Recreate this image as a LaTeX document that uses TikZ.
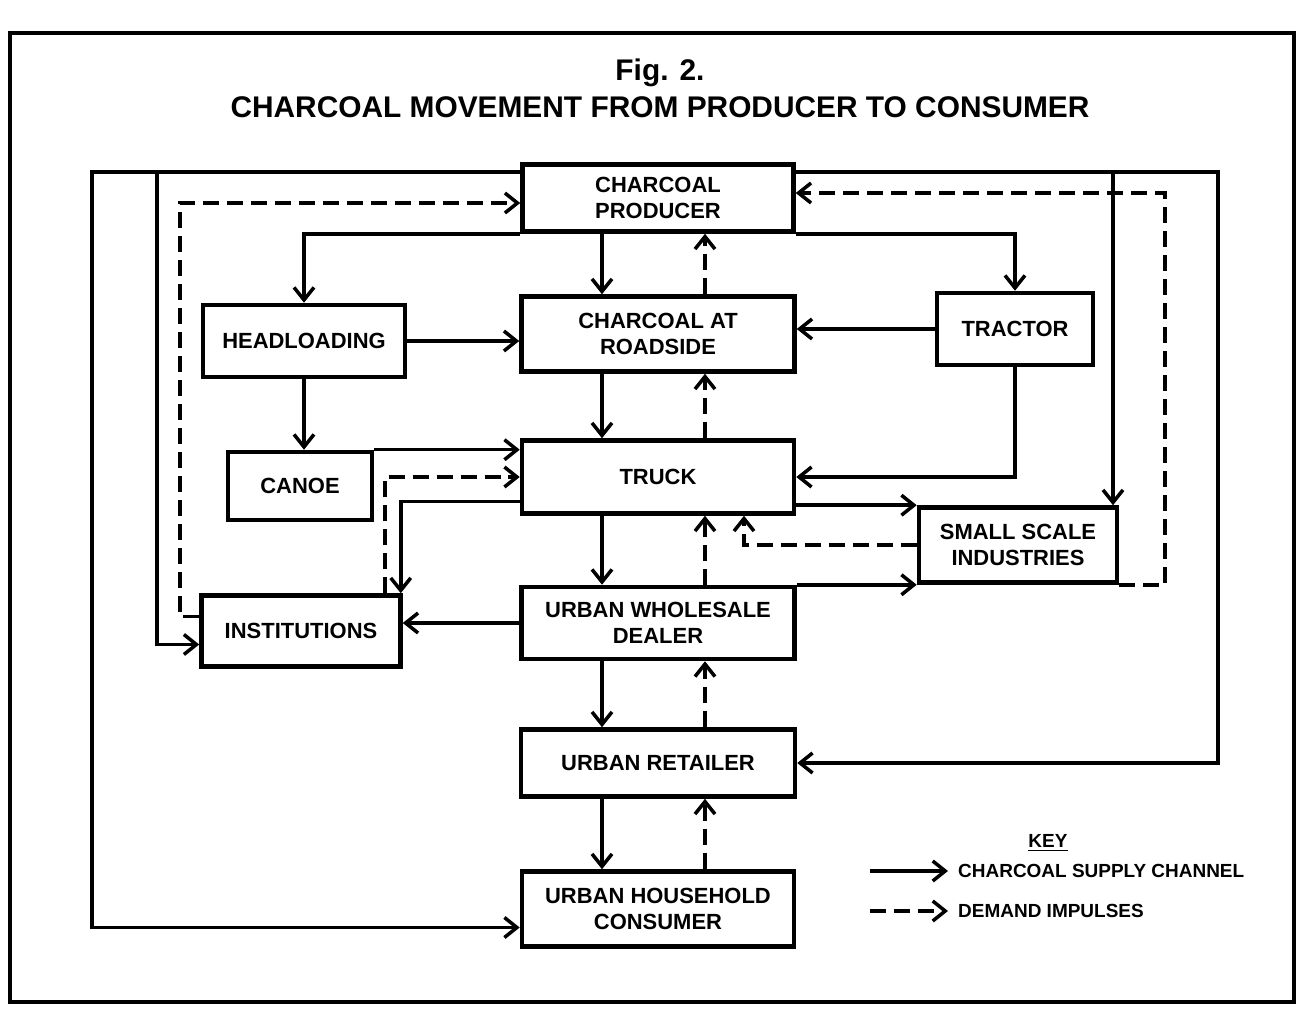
\documentclass[tikz,border=0pt]{standalone}
\usepackage{fontspec}
\setmainfont{Liberation Sans}
\usetikzlibrary{arrows.meta}

\begin{document}
\begin{tikzpicture}[x=0.02cm,y=-0.02cm]
\tikzset{box/.style={draw,line width=2.6pt,align=center,inner sep=0pt,font=\bfseries\fontsize{12.5}{15}\selectfont},
  sup/.style={line width=2pt,-{Straight Barb[length=2.5mm,width=4mm,line width=2pt]}},
  dem/.style={sup,dash pattern=on 3.2mm off 1.6mm},
  keytext/.style={font=\bfseries\fontsize{10.8}{12}\selectfont}}
\useasboundingbox (0,0) rectangle (1303,1017);

% page frame and title
\draw[line width=2.6pt] (10,33) rectangle (1294,1002);
\node[font=\bfseries\fontsize{17}{20}\selectfont] (fig) at (660,73) {Fig. 2.};
\node[font=\bfseries\fontsize{17}{20}\selectfont] (title) at (660,107) {CHARCOAL MOVEMENT FROM PRODUCER TO CONSUMER};

\node[box,minimum width=5.42cm,minimum height=1.34cm] (prod) at (658,198) {CHARCOAL\\PRODUCER};
\node[box,minimum width=4.04cm,minimum height=1.44cm] (head) at (304,341) {HEADLOADING};
\node[box,minimum width=5.46cm,minimum height=1.5cm] (road) at (658,334) {CHARCOAL AT\\ROADSIDE};
\node[box,minimum width=3.12cm,minimum height=1.44cm] (tract) at (1015,329) {TRACTOR};
\node[box,minimum width=2.88cm,minimum height=1.36cm] (canoe) at (300,486) {CANOE};
\node[box,minimum width=5.44cm,minimum height=1.46cm] (truck) at (658,477) {TRUCK};
\node[box,minimum width=3.96cm,minimum height=1.5cm] (ssi) at (1018,545) {SMALL SCALE\\INDUSTRIES};
\node[box,minimum width=3.98cm,minimum height=1.42cm] (inst) at (301,631) {INSTITUTIONS};
\node[box,minimum width=5.46cm,minimum height=1.44cm] (whole) at (658,623) {URBAN WHOLESALE\\DEALER};
\node[box,minimum width=5.48cm,minimum height=1.34cm] (retail) at (658,763) {URBAN RETAILER};
\node[box,minimum width=5.44cm,minimum height=1.5cm] (house) at (658,909) {URBAN HOUSEHOLD\\CONSUMER};

% outer supply loops
\coordinate (tl) at (92,172);
\coordinate (tl2) at (157,172);
\coordinate (tr2) at (1113,172);
\coordinate (tr) at (1218,172);
\draw[sup] (tl -| prod.west) -- (tl) |- ([yshift=-.37cm]house.west);
\draw[sup] (tr -| prod.east) -- (tr) |- (retail.east);
\draw[sup] (tl2) |- ([yshift=-.27cm]inst.west);
\draw[sup] (tr2) -- (tr2 |- ssi.north);

% demand back to producer
\coordinate (dl) at (180,203);
\coordinate (dr) at (1165,193);
\draw[dem] ([yshift=.29cm]inst.west) -| (dl) -- (dl -| prod.west);
\draw[dem] (ssi.south east) -| (dr) -- (dr -| prod.east);

% central chain
\foreach \a/\b in {prod/road,road/truck,truck/whole,whole/retail,retail/house}{
  \draw[sup] ([xshift=-1.12cm]\a.south) -- ([xshift=-1.12cm]\b.north);
  \draw[dem] ([xshift=.94cm]\b.north) -- ([xshift=.94cm]\a.south);
}

\draw[sup] (prod.south west) -| (head.north);
\draw[sup] (prod.south east) -| (tract.north);
\draw[sup] (head.east) -- (head.east -| road.west);
\draw[sup] (tract.west) -- (tract.west -| road.east);
\draw[sup] (head.south) -- (head.south |- canoe.north);
\draw[sup] (tract.south) |- (truck.east);
\draw[sup] (canoe.north east) -- (canoe.north east -| truck.west);
\draw[dem] ([xshift=-.36cm]inst.north east) |- (truck.west);
\draw[sup] ([yshift=-.49cm]truck.west) -| ([xshift=-.04cm]inst.north east);
\draw[sup] (truck.east |- ssi.north west) -- (ssi.north west);
\draw[dem] (ssi.west) -| ([xshift=1.72cm]truck.south);
\draw[sup] (whole.east |- ssi.south west) -- (ssi.south west);
\draw[sup] (whole.west) -- (whole.west -| inst.east);

% key
\node[keytext] (key) at (1048,843) {\underline{KEY}};
\node[keytext,anchor=west] (ksup) at (952,871) {CHARCOAL SUPPLY CHANNEL};
\node[keytext,anchor=west] (kdem) at (952,911) {DEMAND IMPULSES};
\draw[sup] ([xshift=-1.64cm]ksup.west) -- ([xshift=-.08cm]ksup.west);
\draw[dem] ([xshift=-1.64cm]kdem.west) -- ([xshift=-.08cm]kdem.west);
\end{tikzpicture}
\end{document}
